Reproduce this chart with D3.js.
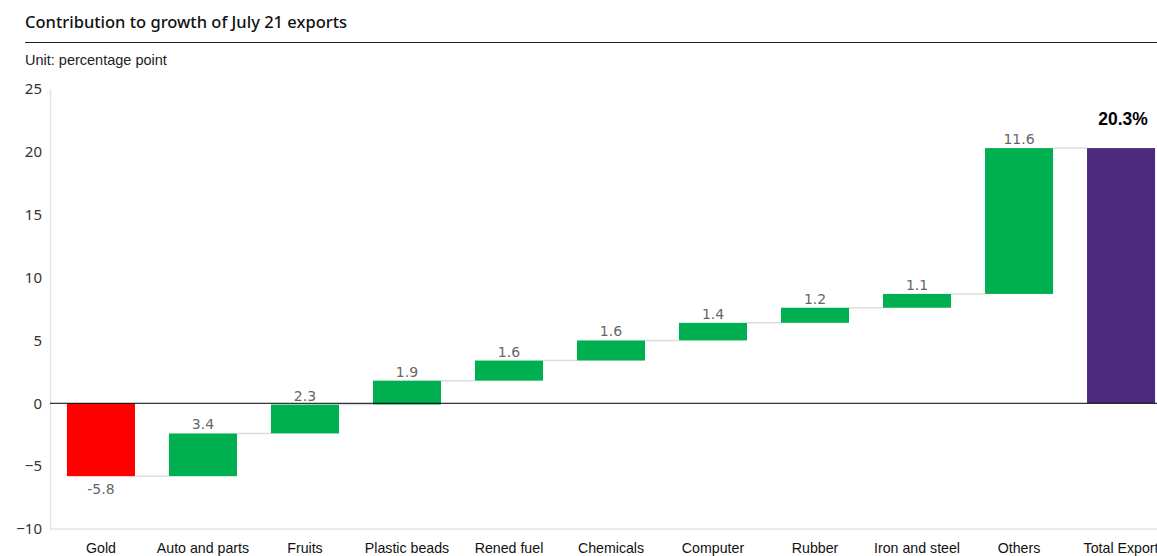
<!DOCTYPE html>
<html>
<head>
<meta charset="utf-8">
<script src="https://cdn.jsdelivr.net/npm/d3@7"></script>
<style>
  body { margin: 0; background: #fff; }
  svg { display: block; }
</style>
</head>
<body>
<div id="chart"></div>
<script>
var width = 1157, height = 556;

// data
let categories = ['Gold', 'Auto and parts', 'Fruits', 'Plastic beads', 'Rened fuel', 'Chemicals',
  'Computer', 'Rubber', 'Iron and steel', 'Others', 'Total Export'];
let values = [-5.8, 3.4, 2.3, 1.9, 1.6, 1.6, 1.4, 1.2, 1.1, 11.6, 20.3];
let yTicks = [-10, -5, 0, 5, 10, 15, 20, 25];

let svg = d3.select('#chart')
  .append('svg')
  .attr('width', width)
  .attr('height', height);

// title block
svg.append('text')
  .attr('x', 25).attr('y', 28)
  .attr('font-family', 'Noto Sans')
  .attr('font-size', 16.5)
  .attr('font-weight', 500)
  .attr('fill', '#111')
  .text('Contribution to growth of July 21 exports');

svg.append('line')
  .attr('x1', 25).attr('x2', width)
  .attr('y1', 42.5).attr('y2', 42.5)
  .attr('stroke', '#222').attr('stroke-width', 1);

svg.append('text')
  .attr('x', 25).attr('y', 65)
  .attr('font-family', 'Liberation Sans')
  .attr('font-size', 14.5)
  .attr('fill', '#222')
  .text('Unit: percentage point');

// build waterfall steps
let steps = [];
let run = 0;
values.forEach((v, i) => {
  let last = i == values.length - 1;
  let start = last ? 0 : run;
  let end = last ? v : run + v;
  steps.push({ cat: categories[i], v: v, start: start, end: end, last: last });
  if (!last) run = end;
});

let xScale = d3.scaleBand()
  .domain(categories)
  .range([50, 1172])
  .paddingInner(0.333)
  .paddingOuter(0.166);

let yScale = d3.scaleLinear()
  .domain([-10, 25])
  .range([529, 89]);

// y axis (light line, no ticks)
let yAxis = d3.axisLeft(yScale).tickValues(yTicks).tickSize(0).tickPadding(8);
let gy = svg.append('g')
  .attr('transform', 'translate(50,0)')
  .call(yAxis);
gy.select('.domain').attr('stroke', '#e3e3e3').attr('stroke-width', 1.5);
gy.selectAll('text')
  .attr('font-family', 'Noto Sans')
  .attr('font-size', 15)
  .attr('fill', '#333');

// bottom axis at -10
let xAxis = d3.axisBottom(xScale).tickSize(0).tickPadding(14);
let gx = svg.append('g')
  .attr('transform', `translate(0, ${yScale(-10)})`)
  .call(xAxis);
gx.select('.domain').attr('d', `M50,0H${width}`).attr('stroke', '#e3e3e3').attr('stroke-width', 1.5);
gx.selectAll('text')
  .attr('font-family', 'Liberation Sans')
  .attr('font-size', 14.2)
  .attr('fill', '#111');

// connectors
svg.selectAll('.conn')
  .data(steps.slice(0, -1))
  .enter()
  .append('line')
  .attr('x1', d => xScale(d.cat) + xScale.bandwidth())
  .attr('x2', (d, i) => xScale(steps[i + 1].cat))
  .attr('y1', d => yScale(d.end))
  .attr('y2', d => yScale(d.end))
  .attr('stroke', '#dcdcdc')
  .attr('stroke-width', 1.5);

// bars
svg.selectAll('.bar')
  .data(steps)
  .enter()
  .append('rect')
  .attr('x', d => xScale(d.cat))
  .attr('width', xScale.bandwidth())
  .attr('y', d => yScale(Math.max(d.start, d.end)))
  .attr('height', d => Math.abs(yScale(d.start) - yScale(d.end)))
  .attr('fill', d => d.last ? '#4e2a7e' : (d.v < 0 ? '#ff0000' : '#00af50'));

// zero line
svg.append('line')
  .attr('x1', 50).attr('x2', width)
  .attr('y1', yScale(0)).attr('y2', yScale(0))
  .attr('stroke', '#000').attr('stroke-width', 1);

// value labels
svg.selectAll('.lbl')
  .data(steps)
  .enter()
  .append('text')
  .attr('x', d => xScale(d.cat) + xScale.bandwidth() / 2 + (d.last ? 2 : 0))
  .attr('y', d => {
    if (d.last) return yScale(d.end) - 23;
    return d.v < 0 ? yScale(d.end) + 18 : yScale(d.end) - 4;
  })
  .attr('text-anchor', 'middle')
  .attr('font-family', d => d.last ? 'Liberation Sans' : 'DejaVu Sans')
  .attr('font-size', d => d.last ? 17.5 : 14)
  .attr('font-weight', d => d.last ? 'bold' : 'normal')
  .attr('fill', d => d.last ? '#000' : '#666')
  .text(d => d.last ? d.v.toFixed(1) + '%' : d.v.toFixed(1));
</script>
</body>
</html>
